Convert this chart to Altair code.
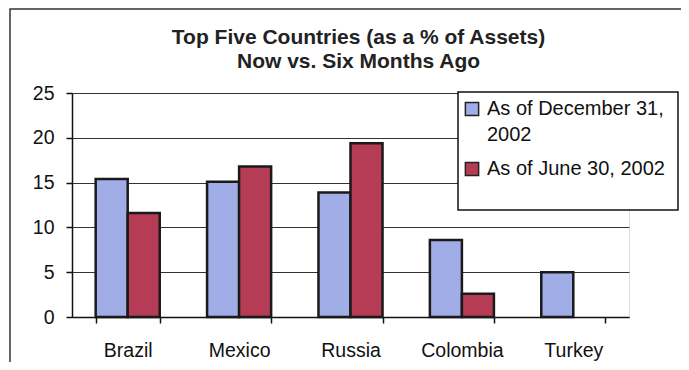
import altair as alt
import pandas as pd

countries = ["Brazil", "Mexico", "Russia", "Colombia", "Turkey"]
series = ["As of December 31, 2002", "As of June 30, 2002"]
legend_text = ["As of December 31,\n2002", "As of June 30, 2002"]
dec_2002 = [15.4, 15.1, 13.9, 8.6, 5.0]
jun_2002 = [11.6, 16.8, 19.4, 2.6, None]
y_ticks = [0, 5, 10, 15, 20, 25]
colors = ["#A0ADE6", "#B63C56"]

rows = []
for c, d, j in zip(countries, dec_2002, jun_2002):
    rows.append({"country": c, "series": series[0], "value": d})
    if j is not None:
        rows.append({"country": c, "series": series[1], "value": j})
df = pd.DataFrame(rows)
leg = pd.DataFrame({"series": series, "label": legend_text})
one = pd.DataFrame({"a": [0]})

FONT = "Liberation Sans"
W, H = 557, 224
color_scale = alt.Scale(domain=series, range=colors)

bars = alt.Chart(df).mark_bar(stroke="#1a1a1a", strokeWidth=2.5).encode(
    x=alt.X("country:N", sort=countries, title=None,
            scale=alt.Scale(paddingInner=0.425, paddingOuter=0.2125),
            axis=alt.Axis(labelAngle=0, labelFont=FONT, labelFontSize=19.5, labelColor="#111",
                          tickBand="extent", tickSize=6, tickColor="#111", tickWidth=1.5,
                          domainColor="#111", domainWidth=1.5, labelPadding=18, grid=False)),
    xOffset=alt.XOffset("series:N", sort=series,
                        scale=alt.Scale(domain=series, paddingInner=0, paddingOuter=0)),
    y=alt.Y("value:Q", title=None, scale=alt.Scale(domain=[0, 25]),
            axis=alt.Axis(values=y_ticks, labelFont=FONT, labelFontSize=19.5, labelColor="#111",
                          tickSize=6, tickColor="#111", tickWidth=1.5, domainColor="#111",
                          domainWidth=1.5, labelPadding=12, grid=True, gridColor="#333",
                          gridWidth=1)),
    color=alt.Color("series:N", sort=series, scale=color_scale, legend=None),
)

# legend box
legend_box = alt.Chart(one).mark_rect(fill="white", stroke="#111", strokeWidth=1.5).encode(
    x=alt.value(386), x2=alt.value(606), y=alt.value(-1), y2=alt.value(117))

leg_y = alt.Y("series:N", sort=series, axis=None,
              scale=alt.Scale(type="point", domain=series, range=[16, 76], padding=0))

legend_sym = alt.Chart(leg).mark_square(size=175, stroke="#222", strokeWidth=1.5, opacity=1).encode(
    x=alt.value(400), y=leg_y,
    color=alt.Color("series:N", sort=series, scale=color_scale, legend=None))

legend_lbl = alt.Chart(leg).mark_text(
    align="left", baseline="middle", font=FONT, fontSize=20, color="#111",
    lineBreak="\n", lineHeight=26).encode(
    x=alt.value(415), y=leg_y, text="label:N")

frame = alt.Chart(one).mark_rect(fill=None, stroke="#333", strokeWidth=1.5).encode(
    x=alt.value(-62), x2=alt.value(800), y=alt.value(-84), y2=alt.value(500))

chart = alt.layer(bars, legend_box, legend_sym, legend_lbl, frame).resolve_scale(
    y="independent"
).properties(
    width=W, height=H,
    autosize=alt.AutoSizeParams(type="none"),
    padding={"left": 64, "top": 85, "right": 52, "bottom": 45},
    title=alt.TitleParams(
        text=["Top Five Countries (as a % of Assets)", "Now vs. Six Months Ago"],
        font=FONT, fontSize=21, fontWeight="bold", color="#222",
        anchor="middle", lineHeight=24, offset=-64, dx=8),
).configure_view(fill="#C9CAC8", stroke="#777", strokeWidth=1).configure(background="white")

chart.save("out.html", embed_options={"renderer": "svg", "actions": False})
